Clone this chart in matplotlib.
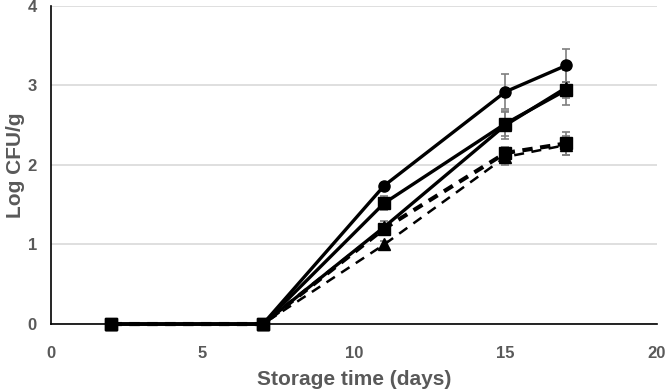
import matplotlib
matplotlib.use("Agg")
from matplotlib import pyplot as plt

# data
days = [2, 7, 11, 15, 17]

circ_solid = [0, 0, 1.74, 2.92, 3.25]
circ_err = [0, 0, 0.03, 0.22, 0.21]
sq_solid = [0, 0, 1.52, 2.52, 2.94]
sq_err = [0, 0, 0.09, 0.15, 0.10]
tri_solid = [0, 0, 1.22, 2.50, 2.97]
tri_err = [0, 0, 0.08, 0.18, 0.22]
sq_dash = [0, 0, 1.20, 2.15, 2.27]
sq_dash_err = [0, 0, 0.05, 0.08, 0.14]
tri_dash = [0, 0, 1.00, 2.10, 2.25]
tri_dash_err = [0, 0, 0.05, 0.10, 0.12]

xticks = [0, 5, 10, 15, 20]
yticks = [0, 1, 2, 3, 4]

plt.rcParams['font.family'] = ['Liberation Sans', 'DejaVu Sans']

fig = plt.figure(figsize=(6.69, 3.89), dpi=100)
ax = fig.add_axes([0.076, 0.167, 0.906, 0.818])

ecol = '#7f7f7f'
common = dict(color='black', ecolor=ecol, elinewidth=1.2, capsize=3, capthick=1.2, markersize=8)

series = [
    (tri_dash, tri_dash_err, '^', (0, (4, 3)), 1.8),
    (sq_dash, sq_dash_err, 's', (0, (2.5, 1.8)), 3.0),
    (tri_solid, tri_err, '^', '-', 2.4),
    (sq_solid, sq_err, 's', '-', 2.4),
    (circ_solid, circ_err, 'o', '-', 2.4),
]
for y, e, m, ls, lw in series:
    ln, caps, bars = ax.errorbar(days, y, yerr=e, marker=m, linestyle=ls, linewidth=lw, **common)
    ln.set_clip_on(False)

ax.set_xlim(0, 20)
ax.set_ylim(0, 4)
ax.set_xticks(xticks)
ax.set_yticks(yticks)
ax.grid(axis='y', color='#d9d9d9', linewidth=1.2)
ax.set_axisbelow(True)

for s in ['top', 'right']:
    ax.spines[s].set_visible(False)
for s in ['left', 'bottom']:
    ax.spines[s].set_color('black')
    ax.spines[s].set_linewidth(1.2)

ax.tick_params(length=0, labelsize=12, labelcolor='#595959')
ax.tick_params(axis='x', pad=16)
ax.tick_params(axis='y', pad=10)
for lbl in ax.get_xticklabels() + ax.get_yticklabels():
    lbl.set_fontweight('bold')

ax.set_xlabel("Storage time (days)", fontsize=15, fontweight='bold', color='#595959', labelpad=6)
ax.set_ylabel("Log CFU/g", fontsize=15, fontweight='bold', color='#595959')
ax.yaxis.set_label_coords(-0.043, 0.5)

plt.savefig('out.png', dpi=100)
